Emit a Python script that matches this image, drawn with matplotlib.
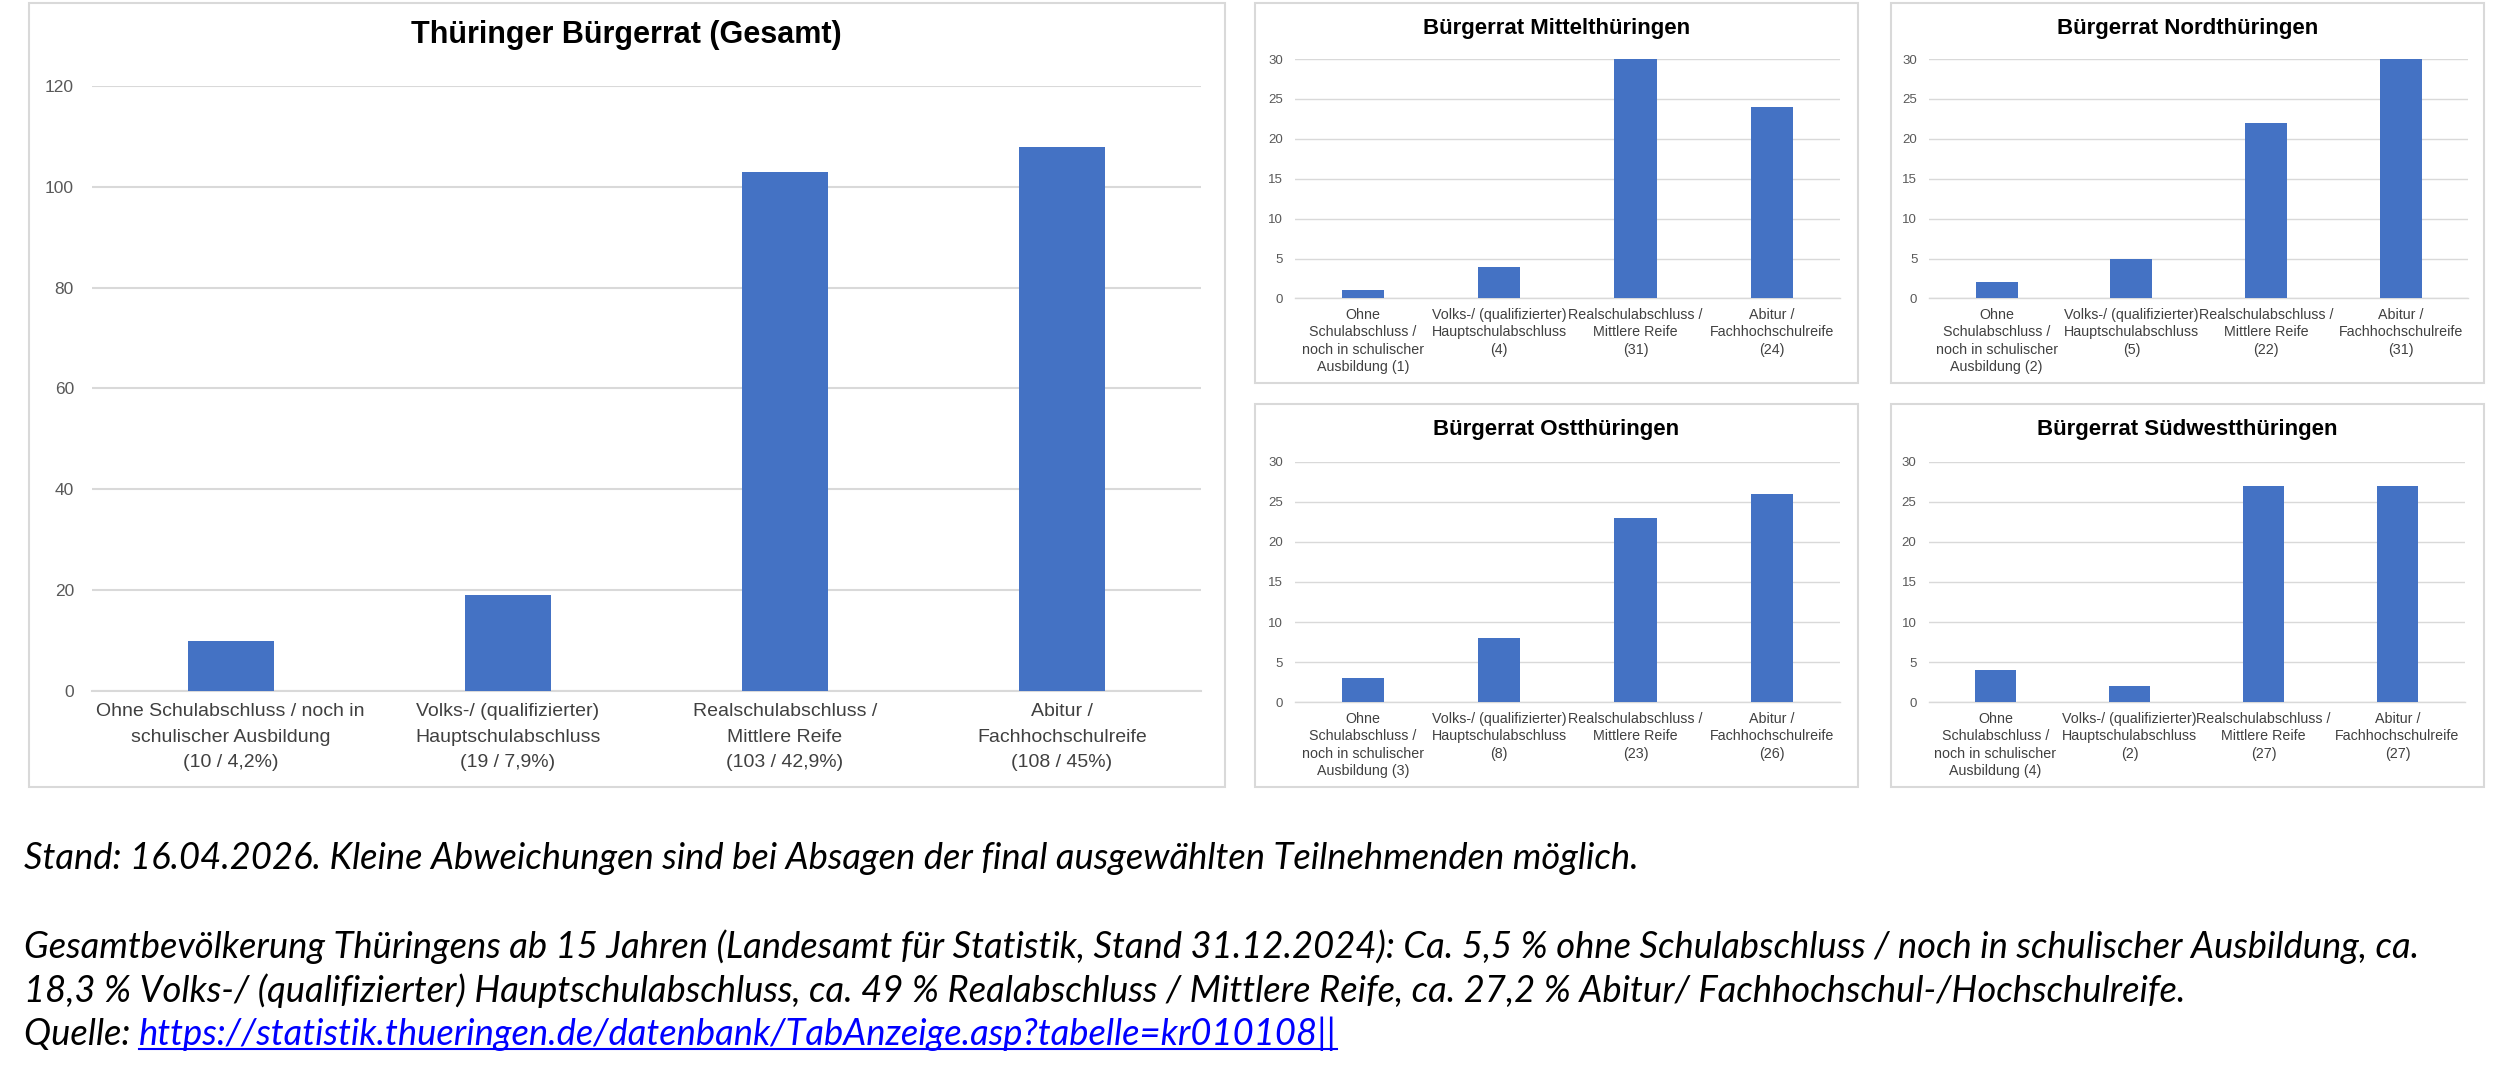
import matplotlib
matplotlib.use("Agg")
import matplotlib.pyplot as plt
from matplotlib.patches import Rectangle
from matplotlib.lines import Line2D

# Daten
kategorien_gesamt = [
    "Ohne Schulabschluss / noch in\nschulischer Ausbildung\n(10 / 4,2%)",
    "Volks-/ (qualifizierter)\nHauptschulabschluss\n(19 / 7,9%)",
    "Realschulabschluss /\nMittlere Reife\n(103 / 42,9%)",
    "Abitur /\nFachhochschulreife\n(108 / 45%)",
]
werte_gesamt = [10, 19, 103, 108]

kategorien_klein = [
    "Ohne\nSchulabschluss /\nnoch in schulischer\nAusbildung ({})",
    "Volks-/ (qualifizierter)\nHauptschulabschluss\n({})",
    "Realschulabschluss /\nMittlere Reife\n({})",
    "Abitur /\nFachhochschulreife\n({})",
]
regionen = ["Bürgerrat Mittelthüringen", "Bürgerrat Nordthüringen",
            "Bürgerrat Ostthüringen", "Bürgerrat Südwestthüringen"]
werte_mittel = [1, 4, 31, 24]
werte_nord = [2, 5, 22, 31]
werte_ost = [3, 8, 23, 26]
werte_suedwest = [4, 2, 27, 27]

fussnote_1 = "Stand: 16.04.2026. Kleine Abweichungen sind bei Absagen der final ausgewählten Teilnehmenden möglich."
fussnote_2 = ("Gesamtbevölkerung Thüringens ab 15 Jahren (Landesamt für Statistik, Stand 31.12.2024): "
              "Ca. 5,5 % ohne Schulabschluss / noch in schulischer Ausbildung, ca.")
fussnote_3 = ("18,3 % Volks-/ (qualifizierter) Hauptschulabschluss, ca. 49 % Realabschluss / Mittlere Reife, "
              "ca. 27,2 % Abitur/ Fachhochschul-/Hochschulreife.")
quelle_text = "Quelle: "
quelle_url = "https://statistik.thueringen.de/datenbank/TabAnzeige.asp?tabelle=kr010108||"

BLAU = "#4472C4"
GRID = "#d9d9d9"
plt.rcParams["font.family"] = ["Liberation Sans", "DejaVu Sans"]

fig = plt.figure(figsize=(25, 10.82), dpi=100)

# Rahmen der Diagramme (figure-Koordinaten)
rahmen = [
    (0.0115, 0.2729, 0.4783, 0.7241),
    (0.5019, 0.6460, 0.2411, 0.3510),
    (0.7564, 0.6460, 0.2372, 0.3510),
    (0.5019, 0.2729, 0.2411, 0.3539),
    (0.7564, 0.2729, 0.2372, 0.3539),
]
for x0, y0, w, h in rahmen:
    fig.patches.append(Rectangle((x0, y0), w, h, transform=fig.transFigure,
                                 fill=False, edgecolor=GRID, linewidth=1.5))


def balken(ax, labels, werte, ymax, step, fs_tick, fs_cat, pad_y, pad_x, lw, ls):
    x = range(len(werte))
    ax.bar(x, werte, width=0.31, color=BLAU, zorder=3)
    ax.set_xlim(-0.5, len(werte) - 0.5)
    ax.set_ylim(0, ymax)
    ax.set_yticks(range(0, ymax + 1, step))
    ax.set_xticks(list(x))
    ax.set_xticklabels(labels, fontsize=fs_cat, color="#404040", linespacing=ls)
    ax.tick_params(axis="y", length=0, labelsize=fs_tick, labelcolor="#595959", pad=pad_y)
    ax.tick_params(axis="x", length=0, pad=pad_x)
    ax.grid(axis="y", color=GRID, linewidth=lw, zorder=0)
    for s in ["top", "right", "left"]:
        ax.spines[s].set_visible(False)
    ax.spines["bottom"].set_color(GRID)
    ax.spines["bottom"].set_linewidth(lw)


# Gesamt
ax0 = fig.add_axes([0.0368, 0.3614, 0.4434, 0.5591])
balken(ax0, kategorien_gesamt, werte_gesamt, 120, 20, 12.5, 14, 13, 9, 1.5, 1.65)
fig.text(0.2507, 0.9676, "Thüringer Bürgerrat (Gesamt)", ha="center", va="center",
         fontsize=22, fontweight="bold", color="#000000")

# Regionen
achsen = [
    [0.5179, 0.7242, 0.2181, 0.2212],
    [0.7717, 0.7242, 0.2156, 0.2212],
    [0.5179, 0.3510, 0.2181, 0.2223],
    [0.7714, 0.3510, 0.2144, 0.2223],
]
titel_pos = [(0.6225, 0.9735), (0.8750, 0.9735), (0.6225, 0.6032), (0.8750, 0.6032)]
for pos, name, werte, tp in zip(achsen, regionen,
                                [werte_mittel, werte_nord, werte_ost, werte_suedwest], titel_pos):
    ax = fig.add_axes(pos)
    labels = [k.format(v) for k, v in zip(kategorien_klein, werte)]
    balken(ax, labels, werte, 30, 5, 9.5, 10.3, 8.6, 7, 1.0, 1.3)
    fig.text(tp[0], tp[1], name, ha="center", va="center", fontsize=16,
             fontweight="bold", color="#000000")

# Fußnoten
ffont = dict(family=["Lato", "DejaVu Sans"], style="italic", color="#000000")
fig.canvas.draw()
r = fig.canvas.get_renderer()
probe = fig.text(0.0096, 0.5, fussnote_2, fontsize=24, **ffont)
breite = probe.get_window_extent(r).width
probe.remove()
fs = 24 * 2399 / breite

fig.text(0.0096, 0.2065, fussnote_1, va="center", fontsize=fs, **ffont)
fig.text(0.0096, 0.1254, fussnote_2, va="center", fontsize=fs, **ffont)
fig.text(0.0096, 0.0841, fussnote_3, va="center", fontsize=fs, **ffont)
tq = fig.text(0.0096, 0.0442, quelle_text, va="center", fontsize=fs, **ffont)
ext = tq.get_window_extent(r)
x_url = ext.x1 / fig.bbox.width
tu = fig.text(x_url, 0.0442, quelle_url, va="center", fontsize=fs,
              family=["Lato", "DejaVu Sans"], style="italic", color="#0000FF")
eu = tu.get_window_extent(r)
y_line = (eu.y0 + 2) / fig.bbox.height
fig.lines.append(Line2D([eu.x0 / fig.bbox.width, eu.x1 / fig.bbox.width], [y_line, y_line],
                        transform=fig.transFigure, color="#0000FF", linewidth=1.5))

fig.savefig("out.png", dpi=100, facecolor="white")
